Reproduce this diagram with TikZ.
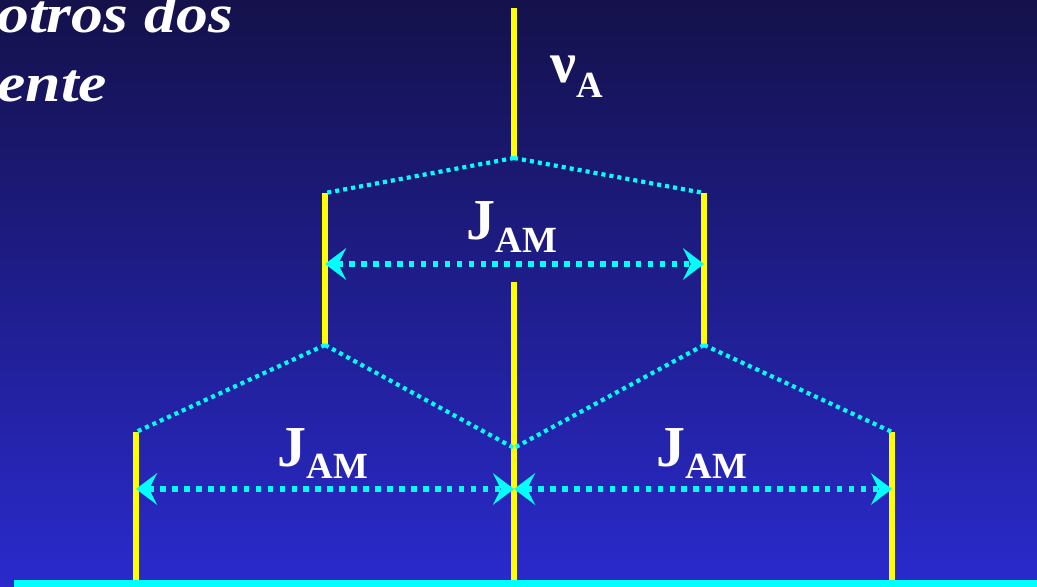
\documentclass[tikz,border=0pt]{standalone}
\usepackage{fontspec}
\setmainfont{Liberation Serif}
\usetikzlibrary{arrows.meta}

\definecolor{fondoarriba}{RGB}{20,17,75}
\definecolor{fondoabajo}{RGB}{42,42,205}
\definecolor{amarillo}{RGB}{255,255,0}
\definecolor{cian}{RGB}{0,255,255}

\tikzset{
    nivel/.style={amarillo, line width=3.4pt},
    enlace/.style={cian, line width=2.4pt, dash pattern=on 2.3pt off 2.3pt},
    acople/.style={cian, line width=3.2pt, dash pattern=on 3.2pt off 3.6pt,
        {Stealth[length=12pt, width=18pt, inset=4.5pt]}-{Stealth[length=12pt, width=18pt, inset=4.5pt]}},
    etiqueta/.style={white, inner sep=0pt, anchor=base,
        font=\bfseries\fontsize{33}{36}\selectfont},
    titulo/.style={white, inner sep=0pt, anchor=base west,
        font=\bfseries\itshape\fontsize{31}{36}\selectfont}
}

\newcommand{\conind}[3]{#1\raisebox{#3}{\fontsize{21}{21}\selectfont #2}}
\newcommand{\ancho}[1]{\scalebox{1.17}[1]{#1}}

\begin{document}
\begin{tikzpicture}[x=0.02cm, y=-0.02cm]

        % ==========================================
        % FONDO: degradado azul
        % ==========================================
        \useasboundingbox (0,0) rectangle (1037,587);
        \shade[top color=fondoarriba, bottom color=fondoabajo] (0,0) rectangle (1037,587);

        % Texto del titulo (cortado a la izquierda)
        \node[titulo] (tit1) at (-3,33) {\ancho{otros dos}};
        \node[titulo] (tit2) at (-3,102) {\ancho{ente}};

        % ==========================================
        % PUNTOS DEL DIAGRAMA
        % ==========================================
        \coordinate (a0) at (514,8);
        \coordinate (a1) at (514,158);

        \coordinate (bL0) at (325,193);
        \coordinate (bL1) at (325,345);
        \coordinate (bR0) at (704,193);
        \coordinate (bR1) at (704,345);

        \coordinate (m0) at (514,282);
        \coordinate (m1) at (514,580);
        \coordinate (cM) at (514,448);

        \coordinate (cL0) at (136,432);
        \coordinate (cL1) at (136,580);
        \coordinate (cR0) at (892,432);
        \coordinate (cR1) at (892,580);

        % extremos de las flechas
        \coordinate (jL) at (325,264);
        \coordinate (jR) at (704,264);
        \coordinate (kL) at (136,489);
        \coordinate (kM) at (514,489);
        \coordinate (kR) at (892,489);

        % ==========================================
        % LINEAS AMARILLAS
        % ==========================================
        \draw[nivel] (a0) -- (a1);
        \draw[nivel] (bL0) -- (bL1);
        \draw[nivel] (bR0) -- (bR1);
        \draw[nivel] (m0) -- (m1);
        \draw[nivel] (cL0) -- (cL1);
        \draw[nivel] (cR0) -- (cR1);

        % Linea base
        \fill[cian] (14,580) rectangle (1037,587);

        % ==========================================
        % DESDOBLAMIENTOS (punteado)
        % ==========================================
        \draw[enlace] (a1) -- (bL0);
        \draw[enlace] (a1) -- (bR0);
        \draw[enlace] (bL1) -- (cL0);
        \draw[enlace] (bL1) -- (cM);
        \draw[enlace] (bR1) -- (cM);
        \draw[enlace] (bR1) -- (cR0);

        % Constantes de acoplamiento
        \draw[acople] (jL) -- (jR);
        \draw[acople] (kL) -- (kM);
        \draw[acople] (kM) -- (kR);

        % ==========================================
        % ETIQUETAS
        % ==========================================
        \node[etiqueta] (nuA) at (577,83) {\conind{ν}{A}{-8pt}};
        \node[etiqueta] (J1) at (512,240) {\conind{J}{AM}{-7pt}};
        \node[etiqueta] (J2) at (323,466) {\conind{J}{AM}{-7pt}};
        \node[etiqueta] (J3) at (702,466) {\conind{J}{AM}{-7pt}};

\end{tikzpicture}
\end{document}
